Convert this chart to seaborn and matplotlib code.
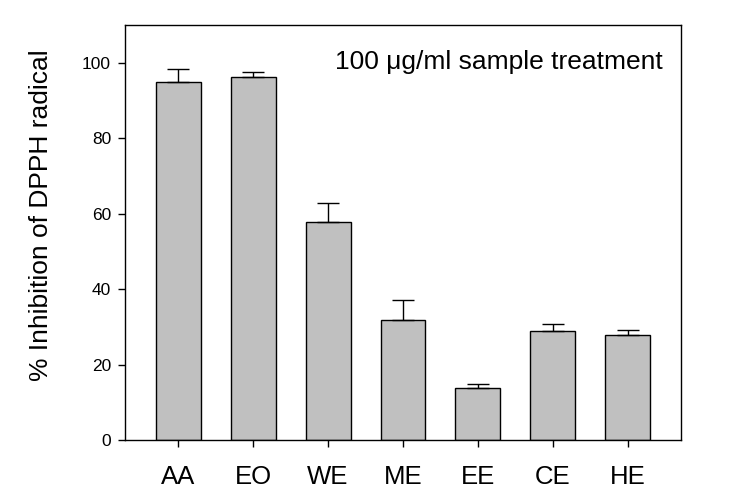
import pandas as pd
import numpy as np
import matplotlib.pyplot as plt
import seaborn as sns

# data
samples = ['AA', 'EO', 'WE', 'ME', 'EE', 'CE', 'HE']
inhibition = [94.8, 96.3, 57.7, 31.8, 13.8, 28.8, 27.8]
upper_err = [3.5, 1.3, 5.0, 5.4, 1.0, 1.9, 1.3]

df = pd.DataFrame({'sample': samples, 'inhibition': inhibition, 'err': upper_err})

sns.set_style('ticks')
plt.rcParams['font.family'] = ['Liberation Sans', 'DejaVu Sans']
plt.rcParams['text.color'] = 'black'
plt.rcParams['axes.labelcolor'] = 'black'
plt.rcParams['xtick.color'] = 'black'
plt.rcParams['ytick.color'] = 'black'

fig = plt.figure(figsize=(7.31, 5.03), dpi=100)
ax = fig.add_axes([125 / 731, 1 - 440 / 503, 556 / 731, 415 / 503])

sns.barplot(data=df, x='sample', y='inhibition', color='#c0c0c0', saturation=1,
            edgecolor='black', linewidth=1.0, width=0.6, errorbar=None, ax=ax)

# upper-only error bars on the categorical positions
ax.errorbar(np.arange(len(samples)), df['inhibition'],
            yerr=[np.zeros(len(samples)), df['err']],
            fmt='none', ecolor='black', elinewidth=1.0, capsize=8, capthick=1.0, zorder=1)

ax.set_xlim(-0.707, 6.707)
ax.set_ylim(0, 110)
ax.set_yticks([0, 20, 40, 60, 80, 100])
ax.set_xlabel('')
ax.set_ylabel('% Inhibition of DPPH radical', fontsize=19)
ax.yaxis.set_label_coords(-0.13, 0.542)
ax.tick_params(axis='x', labelsize=18.5, length=5, width=1, pad=13)
ax.tick_params(axis='y', labelsize=12.5, length=5, width=1, pad=5)

for s in ax.spines.values():
    s.set_visible(True)
    s.set_color('black')
    s.set_linewidth(1.0)

ax.text(0.968, 0.91, '100 \u03bcg/ml sample treatment', transform=ax.transAxes,
        ha='right', va='center', fontsize=19)

fig.savefig('out.png', dpi=100)
